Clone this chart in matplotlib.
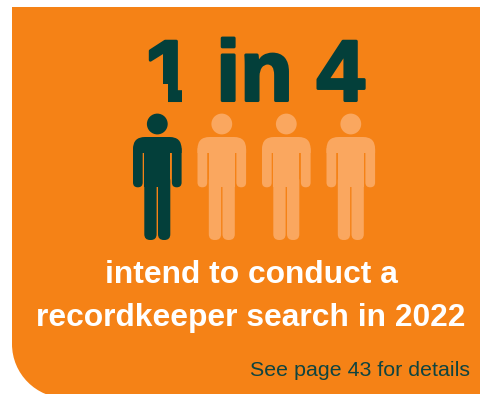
import matplotlib
matplotlib.use("Agg")
import matplotlib.pyplot as plt
import matplotlib.patheffects as pe
from matplotlib.patches import Circle, FancyBboxPatch, PathPatch, Rectangle
from matplotlib.path import Path

plt.rcParams['font.family'] = ['Liberation Sans', 'DejaVu Sans']

# Statistic shown by the pictogram
headline = "1 in 4"
people_total = 4
people_highlighted = 1
caption_lines = ["intend to conduct a", "recordkeeper search in 2022"]
footnote = "See page 43 for details"

ORANGE = "#F58216"
DARK = "#033F3A"
LIGHT = "#FAA75F"
WHITE = "#FFFFFF"

W, H = 481, 394
fig = plt.figure(figsize=(W / 100, H / 100), dpi=100)
ax = fig.add_axes([0, 0, 1, 1])
ax.set_xlim(0, W)
ax.set_ylim(H, 0)
ax.axis("off")


def panel_path(x0, y0, x1, y1, r):
    """Rectangle whose bottom-left corner is rounded."""
    k = 0.5523 * r
    verts = [(x0, y0), (x1, y0), (x1, y1), (x0 + r, y1),
             (x0 + r - k, y1), (x0, y1 - r + k), (x0, y1 - r),
             (x0, y0)]
    codes = [Path.MOVETO, Path.LINETO, Path.LINETO, Path.LINETO,
             Path.CURVE4, Path.CURVE4, Path.CURVE4, Path.CLOSEPOLY]
    return Path(verts, codes)


ax.add_patch(PathPatch(panel_path(12, 7, W + 4, H + 4, 54), fc=ORANGE, ec="none",
                       clip_on=False))


def rounded(x0, y0, x1, y1, r, color):
    ax.add_patch(FancyBboxPatch((x0 + r, y0 + r), x1 - x0 - 2 * r, y1 - y0 - 2 * r,
                                boxstyle=f"round,pad={r},rounding_size={r}",
                                fc=color, ec="none", lw=0))


def person(cx, color):
    """Restroom-style figure centred on cx."""
    ax.add_patch(Circle((cx, 124), 10.4, fc=color, ec="none"))
    # shoulders
    rounded(cx - 24.3, 137, cx + 24.3, 172, 12, color)
    # clear the space below the shoulders either side of the torso
    for sx in (-1, 1):
        left = cx + sx * 19 - 5.8
        ax.add_patch(Rectangle((left, 153), 11.6, 24, fc=ORANGE, ec="none"))
    # arms
    rounded(cx - 24.3, 145, cx - 14.6, 187.3, 4.8, color)
    rounded(cx + 14.6, 145, cx + 24.3, 187.3, 4.8, color)
    # torso and legs
    ax.add_patch(Rectangle((cx - 13, 145), 26, 42, fc=color, ec="none"))
    rounded(cx - 13, 175, cx - 0.7, 240, 5.8, color)
    rounded(cx + 0.7, 175, cx + 13, 240, 5.8, color)


first_cx, spacing = 157.3, 64.5
for i in range(people_total):
    person(first_cx + i * spacing, DARK if i < people_highlighted else LIGHT)

ax.text(254.5, 100.5, headline, ha="center", va="baseline", fontsize=62,
        fontweight="bold", color=DARK,
        path_effects=[pe.withStroke(linewidth=2.2, foreground=DARK)])
# the bold face gives the numeral a foot; hide it so only the stem remains
for x0, x1 in ((140, 168), (182, 197)):
    ax.add_patch(Rectangle((x0, 84), x1 - x0, 21, fc=ORANGE, ec="none", zorder=4))

ax.text(251.5, 283, caption_lines[0], ha="center", va="baseline", fontsize=22.9,
        fontweight="bold", color=WHITE)
ax.text(251, 326, caption_lines[1], ha="center", va="baseline", fontsize=22.9,
        fontweight="bold", color=WHITE)
ax.text(470.5, 376, footnote, ha="right", va="baseline", fontsize=15.4, color="#0F4440")

fig.savefig("out.png", dpi=100, facecolor="white")
